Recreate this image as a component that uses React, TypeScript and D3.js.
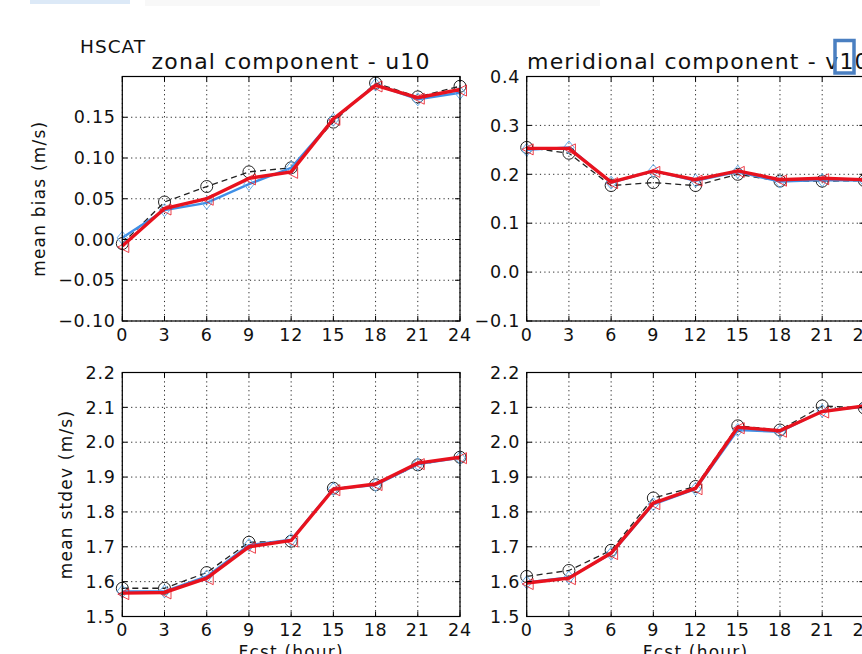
import React from "react";
import * as d3 from "d3";

// ---------- data ----------
const fcstHours = [0, 3, 6, 9, 12, 15, 18, 21, 24];

const u10BiasBlack = [-0.005, 0.046, 0.065, 0.083, 0.088, 0.144, 0.192, 0.175, 0.188];
const u10BiasBlue = [0.002, 0.036, 0.045, 0.068, 0.088, 0.147, 0.190, 0.172, 0.180];
const u10BiasRed = [-0.008, 0.038, 0.050, 0.075, 0.083, 0.148, 0.189, 0.174, 0.184];

const v10BiasBlack = [0.255, 0.243, 0.177, 0.183, 0.177, 0.200, 0.186, 0.186, 0.187];
const v10BiasBlue = [0.250, 0.255, 0.183, 0.207, 0.187, 0.205, 0.185, 0.188, 0.187];
const v10BiasRed = [0.253, 0.253, 0.184, 0.207, 0.189, 0.207, 0.189, 0.192, 0.189];

const u10StdBlack = [1.581, 1.581, 1.626, 1.713, 1.716, 1.868, 1.878, 1.935, 1.957];
const u10StdBlue = [1.572, 1.572, 1.615, 1.705, 1.720, 1.866, 1.877, 1.937, 1.955];
const u10StdRed = [1.567, 1.569, 1.610, 1.700, 1.718, 1.865, 1.880, 1.940, 1.957];

const v10StdBlack = [1.615, 1.632, 1.690, 1.840, 1.873, 2.047, 2.035, 2.104, 2.098];
const v10StdBlue = [1.598, 1.612, 1.680, 1.822, 1.866, 2.035, 2.030, 2.090, 2.102];
const v10StdRed = [1.596, 1.610, 1.682, 1.825, 1.868, 2.043, 2.033, 2.088, 2.104];

const xTicks = [0, 3, 6, 9, 12, 15, 18, 21, 24];
const u10BiasTicks = [-0.1, -0.05, 0, 0.05, 0.1, 0.15];
const v10BiasTicks = [-0.1, 0, 0.1, 0.2, 0.3, 0.4];
const stdTicks = [1.5, 1.6, 1.7, 1.8, 1.9, 2.0, 2.1, 2.2];

const titles = ["zonal component - u10", "meridional component - v10"];
const yLabels = ["mean bias (m/s)", "mean stdev (m/s)"];
const xLabel = "Fcst (hour)";
const expName = "HSCAT";

// ---------- style ----------
const FONT = "'DejaVu Sans', 'Bitstream Vera Sans', sans-serif";
const RED = "#e8121e";
const BLUE = "#3f8fe6";
const BLUE_MK = "#69aeea";
const BLACK = "#222";
const TICK_FS = 17.5;
const TICK_LS = 0.8;

type PanelProps = {
  x0: number; x1: number; y0: number; y1: number;
  yDomain: [number, number];
  yTicks: number[];
  fmt: (v: number) => string;
  black: number[]; blue: number[]; red: number[];
};

const minusFmt = (f: string) => (v: number) => d3.format(f)(v).replace("-", "\u2212");

function Panel(p: PanelProps) {
  const x = d3.scaleLinear().domain([0, 24]).range([p.x0, p.x1]);
  const y = d3.scaleLinear().domain(p.yDomain).range([p.y1, p.y0]);
  const line = (vals: number[]) =>
    d3.line<number>().x((_, i) => x(fcstHours[i])).y((v) => y(v))(vals) || "";
  const tick = 5;
  const gridY = Array.from(new Set([...p.yTicks, p.yDomain[1]]));
  return (
    <g>
      <rect x={p.x0} y={p.y0} width={p.x1 - p.x0} height={p.y1 - p.y0} fill="#fff" />
      {xTicks.map((t) => (
        <line key={"gx" + t} x1={x(t)} x2={x(t)} y1={p.y0} y2={p.y1}
          stroke="#000" strokeWidth={1} strokeDasharray="1.2,3.2" opacity={0.85} />
      ))}
      {gridY.map((t) => (
        <line key={"gy" + t} x1={p.x0} x2={p.x1} y1={y(t)} y2={y(t)}
          stroke="#000" strokeWidth={1} strokeDasharray="1.2,3.2" opacity={0.85} />
      ))}
      <path d={line(p.black)} fill="none" stroke={BLACK} strokeWidth={1.3} strokeDasharray="6,4" />
      {p.black.map((v, i) => (
        <circle key={"c" + i} cx={x(fcstHours[i])} cy={y(v)} r={6} fill="none" stroke={BLACK} strokeWidth={1} />
      ))}
      <path d={line(p.blue)} fill="none" stroke={BLUE} strokeWidth={2.4} />
      {p.blue.map((v, i) => {
        const cx = x(fcstHours[i]), cy = y(v), s = 6.5;
        return (
          <path key={"d" + i} d={`M${cx},${cy - s}L${cx + s * 0.8},${cy}L${cx},${cy + s}L${cx - s * 0.8},${cy}Z`}
            fill="none" stroke={BLUE_MK} strokeWidth={1} />
        );
      })}
      <path d={line(p.red)} fill="none" stroke={RED} strokeWidth={3.4} />
      {p.red.map((v, i) => {
        const cx = x(fcstHours[i]) + 1, cy = y(v) + 1, s = 5.5;
        return (
          <path key={"t" + i} d={`M${cx - s},${cy}L${cx + s},${cy - s}L${cx + s},${cy + s}Z`}
            fill="none" stroke={RED} strokeWidth={1} opacity={0.8} />
        );
      })}
      {xTicks.map((t) => (
        <g key={"tx" + t}>
          <line x1={x(t)} x2={x(t)} y1={p.y1} y2={p.y1 - tick} stroke="#000" />
          <line x1={x(t)} x2={x(t)} y1={p.y0} y2={p.y0 + tick} stroke="#000" />
          <text x={x(t)} y={p.y1 + 19.5} textAnchor="middle" fontSize={TICK_FS} letterSpacing={TICK_LS}
            fontFamily={FONT} fill="#111">{t}</text>
        </g>
      ))}
      {p.yTicks.map((t) => (
        <g key={"ty" + t}>
          <line x1={p.x0} x2={p.x0 + tick} y1={y(t)} y2={y(t)} stroke="#000" />
          <line x1={p.x1} x2={p.x1 - tick} y1={y(t)} y2={y(t)} stroke="#000" />
          <text x={p.x0 - 6.5} y={y(t) + 6.2} textAnchor="end" fontSize={TICK_FS} letterSpacing={TICK_LS}
            fontFamily={FONT} fill="#111">{p.fmt(t)}</text>
        </g>
      ))}
      <rect x={p.x0} y={p.y0} width={p.x1 - p.x0} height={p.y1 - p.y0} fill="none" stroke="#000" strokeWidth={1.2} />
    </g>
  );
}

export default function App() {
  const L = { x0: 122.3, x1: 460 };
  const R = { x0: 526.7, x1: 864.4 };
  const T = { y0: 76.5, y1: 321 };
  const B = { y0: 372.5, y1: 616.5 };
  return (
    <svg width={862} height={654} viewBox="0 0 862 654"
      style={{ position: "absolute", left: 0, top: 0, background: "#fff" }}>
      <rect x={0} y={0} width={862} height={654} fill="#fff" />
      <rect x={30} y={0} width={100} height={4} fill="#dce9f7" />
      <rect x={145} y={0} width={455} height={6} fill="#f8f8f8" />

      <Panel {...L} {...T} yDomain={[-0.1, 0.2]} yTicks={u10BiasTicks} fmt={minusFmt(".2f")}
        black={u10BiasBlack} blue={u10BiasBlue} red={u10BiasRed} />
      <Panel {...R} {...T} yDomain={[-0.1, 0.4]} yTicks={v10BiasTicks} fmt={minusFmt(".1f")}
        black={v10BiasBlack} blue={v10BiasBlue} red={v10BiasRed} />
      <Panel {...L} {...B} yDomain={[1.5, 2.2]} yTicks={stdTicks} fmt={minusFmt(".1f")}
        black={u10StdBlack} blue={u10StdBlue} red={u10StdRed} />
      <Panel {...R} {...B} yDomain={[1.5, 2.2]} yTicks={stdTicks} fmt={minusFmt(".1f")}
        black={v10StdBlack} blue={v10StdBlue} red={v10StdRed} />

      <text x={(L.x0 + L.x1) / 2} y={69} textAnchor="middle" fontSize={22} letterSpacing={1.2}
        fontFamily={FONT} fill="#111">{titles[0]}</text>
      <text x={527} y={68.5} fontSize={22} letterSpacing={1.2}
        fontFamily={FONT} fill="#111">{titles[1]}</text>
      <text x={80} y={53} fontSize={18.5} letterSpacing={1} fontFamily={FONT} fill="#111">{expName}</text>

      <text transform={`translate(45,${(T.y0 + T.y1) / 2}) rotate(-90)`} textAnchor="middle" fontSize={17}
        letterSpacing={1.2} fontFamily={FONT} fill="#111">{yLabels[0]}</text>
      <text transform={`translate(71.5,${(B.y0 + B.y1) / 2}) rotate(-90)`} textAnchor="middle" fontSize={17}
        letterSpacing={1.2} fontFamily={FONT} fill="#111">{yLabels[1]}</text>

      <text x={(L.x0 + L.x1) / 2} y={658} textAnchor="middle" fontSize={17} letterSpacing={1.2}
        fontFamily={FONT} fill="#111">{xLabel}</text>
      <text x={(R.x0 + R.x1) / 2} y={658} textAnchor="middle" fontSize={17} letterSpacing={1.2}
        fontFamily={FONT} fill="#111">{xLabel}</text>

      <rect x={835} y={40.5} width={19} height={32.5} fill="none" stroke="#4a7fc1" strokeWidth={3.5} />
    </svg>
  );
}
